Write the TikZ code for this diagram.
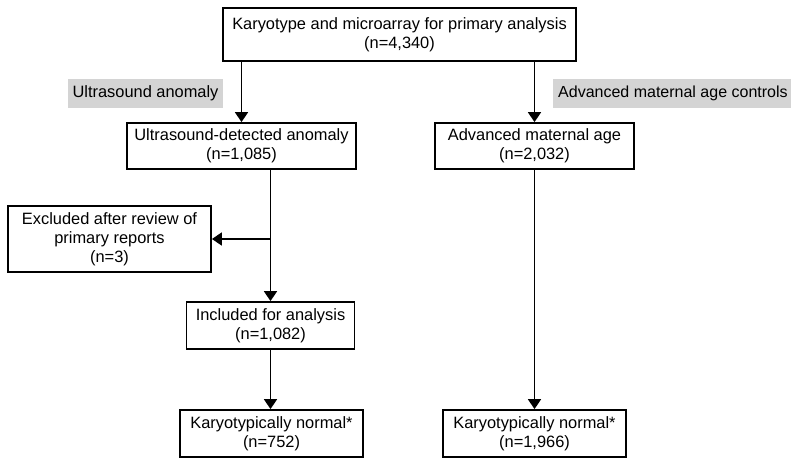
\documentclass[tikz,border=0pt]{standalone}
\usepackage{fontspec}
\setmainfont{Liberation Sans}
\usetikzlibrary{arrows.meta}
\definecolor{labelgray}{RGB}{212,212,212}

\begin{document}
\begin{tikzpicture}[x=1pt,y=1pt,yscale=-1,xscale=1,
  box/.style={draw,line width=1.8pt,fill=white,align=center,inner sep=0pt,font=\fontsize{16.4}{19}\selectfont},
  tag/.style={fill=labelgray,align=center,inner sep=0pt,font=\fontsize{16.4}{19}\selectfont},
  arr/.style={line width=1.8pt,-{Triangle[width=13pt,length=10pt]}}]
\useasboundingbox (0,0) rectangle (791,458);

%Shape: Rectangle
\node[box,minimum width=353,minimum height=53] (top) at (399.5,34.5) {Karyotype and microarray for primary analysis\\(n=4,340)};
%Shape: Rectangle
\node[box,minimum width=229,minimum height=46] (us) at (241.5,146) {Ultrasound-detected anomaly\\(n=1,085)};
%Shape: Rectangle
\node[box,minimum width=199,minimum height=46] (ama) at (534.5,146) {Advanced maternal age\\(n=2,032)};
%Shape: Rectangle
\node[box,minimum width=203,minimum height=66] (excl) at (109.5,239) {Excluded after review of\\primary reports\\(n=3)};
%Shape: Rectangle
\node[box,minimum width=168,minimum height=47] (incl) at (270.5,325.5) {Included for analysis\\(n=1,082)};
%Shape: Rectangle
\node[box,minimum width=183,minimum height=47] (normL) at (271.5,433.5) {Karyotypically normal*\\(n=752)};
%Shape: Rectangle
\node[box,minimum width=183,minimum height=47] (normR) at (534.5,433.5) {Karyotypically normal*\\(n=1,966)};

% Text Node
\node[tag,minimum width=155,minimum height=29] (tagUS) at (145.5,93.5) {Ultrasound anomaly};
% Text Node
\node[tag,anchor=west,minimum height=29,inner xsep=5pt,font=\fontsize{16}{19}\selectfont] (tagAMA) at (553,93.5) {Advanced maternal age controls};

%Straight Lines
\draw[arr] (us.north |- top.south) -- (us.north);
%Straight Lines
\draw[arr] (ama.north |- top.south) -- (ama.north);
%Straight Lines
\draw[arr] (incl.north |- us.south) -- (incl.north);
%Straight Lines
\draw[arr] (incl.north |- excl.east) -- (excl.east);
%Straight Lines
\draw[arr] (incl.south) -- (incl.south |- normL.north);
%Straight Lines
\draw[arr] (ama.south) -- (ama.south |- normR.north);

\end{tikzpicture}
\end{document}
